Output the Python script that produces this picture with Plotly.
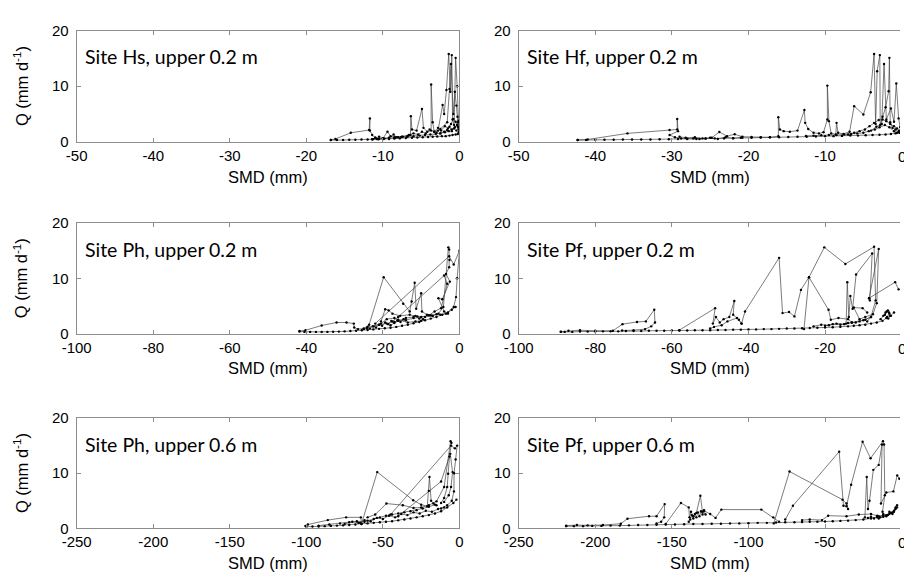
import plotly.graph_objects as go

# Soil moisture deficit (SMD, mm) versus discharge Q (mm/d); each inner list is one
# connected run of daily observations.
hs_smd = [
    [-0.2, -0.5, -0.9, -1.3, -1.8, -2.3, -2.9, -3.5, -4.1, -4.8, -5.5, -6.2, -7.0, -7.8, -8.5, -9.2, -9.9, -10.6, -11.3, -12.0, -12.8, -13.6, -14.4, -15.2, -16.0, -16.8],
    [-16.8, -16.2, -14.2, -11.8, -11.7, -11.7, -11.4, -11.0, -10.5, -10.0, -9.4, -9.0, -8.5, -8.0, -7.4, -6.8, -6.4, -6.35, -6.2, -5.6, -4.9, -4.7, -4.2, -3.7, -3.7, -3.5, -3.3, -2.8, -2.2, -2.0, -1.7, -1.4, -1.2, -1.0, -0.9, -0.7, -0.5, -0.3, -0.2, -0.1],
    [-0.1, -0.3, -0.6, -1.0, -1.4, -1.9, -2.5, -3.1, -3.8, -4.5, -5.2, -6.0, -6.8, -7.6, -8.4, -9.2, -10.0, -10.8, -11.4],
    [-11.4, -11.0, -10.5, -9.8, -9.2, -8.6, -8.2, -7.5, -6.6, -6.0, -5.4, -4.9, -4.4, -3.9, -3.3, -2.8, -2.4, -1.9, -1.5, -1.1, -0.8, -0.5, -0.3, -0.15, -0.4, -0.7, -1.0, -1.3, -1.6, -2.0, -2.5],
    [-3.0, -2.5, -1.6, -1.3, -1.1, -0.8, -0.6, -0.4, -0.25, -0.1],
]
hs_q = [
    [1.4, 1.3, 1.2, 1.1, 1.0, 1.0, 0.95, 0.9, 0.85, 0.8, 0.75, 0.7, 0.65, 0.6, 0.55, 0.5, 0.5, 0.45, 0.45, 0.4, 0.4, 0.35, 0.35, 0.3, 0.3, 0.3],
    [0.3, 0.5, 1.6, 2.1, 4.2, 2.0, 1.2, 0.7, 0.5, 0.6, 1.8, 1.0, 0.8, 0.8, 0.9, 1.0, 1.2, 4.6, 2.2, 2.0, 5.9, 2.5, 1.8, 2.0, 10.3, 3.5, 1.8, 2.0, 6.6, 5.0, 9.3, 15.8, 9.0, 15.6, 4.0, 3.0, 15.1, 10.0, 3.5, 2.2],
    [3.8, 3.0, 2.6, 2.2, 1.9, 1.7, 1.5, 1.4, 1.3, 1.2, 1.1, 1.0, 0.9, 0.85, 0.75, 0.65, 0.55, 0.5, 0.45],
    [0.45, 0.7, 0.9, 0.6, 0.7, 1.3, 0.8, 0.9, 1.2, 1.5, 1.3, 1.8, 1.5, 2.2, 1.8, 2.5, 2.0, 2.8, 2.4, 3.2, 4.1, 3.6, 2.9, 2.6, 2.0, 2.4, 1.9, 2.7, 2.1, 1.8, 1.5],
    [1.6, 2.3, 3.5, 9.5, 14.0, 5.0, 9.0, 6.5, 4.5, 1.7],
]

hf_smd = [
    [-0.3, -0.8, -1.4, -2.1, -2.9, -3.8, -4.7, -5.7, -6.7, -7.8, -8.9, -10.0, -11.2, -12.4, -13.6, -14.8, -16.0, -17.2, -18.4, -19.6, -20.8, -22.0, -23.2, -24.4, -25.6, -26.8, -28.0, -29.2, -30.4, -31.6, -32.8, -34.0, -35.2, -36.4, -37.6, -38.8, -40.0, -41.2, -42.3],
    [-42.3, -41.0, -35.8, -30.3, -29.3, -29.3, -29.2, -30.3, -29.6, -28.8, -28.0, -27.2, -26.4, -25.6, -24.8, -23.8, -22.8, -21.8, -20.8, -19.6, -18.4, -17.2, -16.1, -16.1, -15.9, -15.4, -14.6, -13.6, -12.7, -12.6, -12.2, -11.5, -10.8, -10.2, -9.7, -9.7, -9.5, -9.2, -8.6, -8.5, -8.3, -7.6, -6.8, -6.2, -5.0, -4.05, -3.6, -3.4, -3.2, -2.85, -2.8, -2.5, -2.1, -1.7, -1.6, -1.5, -1.2, -0.8, -0.4],
    [-7.0, -6.2, -5.5, -4.8, -4.2, -3.6, -3.0, -2.5, -2.0, -1.5, -1.0, -0.6, -0.3, -0.6, -1.0, -1.6, -2.2, -2.9, -3.5, -4.3, -5.0, -5.8, -6.6, -7.5, -8.5, -9.5, -10.5, -11.5, -12.5],
    [-4.0, -3.3, -2.6, -2.3, -2.0, -1.4, -1.0, -0.7, -0.4, -0.2],
    [-29.0, -28.2, -27.0, -26.0, -25.0, -24.0, -23.0, -22.0, -21.0],
]
hf_q = [
    [1.6, 1.5, 1.4, 1.3, 1.25, 1.2, 1.15, 1.1, 1.1, 1.05, 1.0, 1.0, 0.95, 0.9, 0.9, 0.85, 0.8, 0.8, 0.75, 0.7, 0.7, 0.65, 0.6, 0.6, 0.55, 0.5, 0.5, 0.5, 0.45, 0.45, 0.4, 0.4, 0.4, 0.4, 0.35, 0.35, 0.35, 0.3, 0.3],
    [0.3, 0.4, 1.5, 2.1, 2.2, 4.1, 1.9, 1.2, 0.8, 0.6, 0.55, 0.6, 0.5, 0.6, 0.7, 1.75, 1.0, 1.35, 0.9, 0.85, 0.8, 0.8, 1.0, 4.4, 2.2, 1.9, 1.8, 2.0, 5.7, 3.4, 2.3, 1.6, 1.5, 1.7, 4.0, 10.1, 3.7, 1.5, 1.3, 3.4, 1.6, 1.4, 1.8, 6.4, 4.9, 8.9, 15.8, 3.2, 12.7, 15.6, 3.0, 4.5, 6.2, 9.1, 15.1, 3.5, 2.5, 2.2, 1.8],
    [1.3, 1.6, 1.9, 2.2, 2.8, 3.4, 3.9, 4.0, 3.7, 3.2, 2.8, 2.4, 2.0, 1.6, 1.9, 2.6, 3.0, 2.6, 2.2, 1.9, 1.6, 1.5, 1.4, 1.3, 1.2, 1.2, 1.15, 1.1, 1.05],
    [2.0, 2.7, 3.2, 14.0, 4.0, 6.0, 3.6, 10.5, 4.2, 2.6],
    [0.9, 0.7, 0.8, 0.6, 0.7, 0.5, 0.8, 0.6, 0.7],
]

ph2_smd = [
    [-1.0, -2.0, -3.0, -4.5, -6.0, -7.5, -9.0, -10.5, -12.0, -13.5, -15.0, -16.5, -18.0, -19.5, -21.0, -22.5, -24.0, -25.5, -27.0, -28.5, -30.0, -31.5, -33.0, -34.5, -36.0, -37.5, -39.0, -40.5, -41.8],
    [-41.8, -40.2, -36.0, -32.1, -29.5, -27.6, -27.5, -26.5, -25.0, -23.6, -19.8, -14.7, -13.0, -12.5, -11.7, -11.3, -10.0, -9.8, -8.5, -7.0],
    [-20.5, -19.4, -18.5, -17.5, -15.5, -13.0, -11.0, -9.0, -7.0, -5.5, -4.2, -2.9, -2.7, -2.6, -2.7, -3.5, -2.5, -4.5, -5.5, -4.0, -3.0],
    [-22.0, -2.7, -1.5, 0.0, -0.6, -0.9, -1.5, -3.5, -5.0],
    [-24.0, -21.0, -19.0, -17.0, -14.0, -12.0, -10.0, -7.5, -6.0],
    [-18.0, -16.0, -14.0, -12.0, -11.5, -10.5, -9.5],
    [-22.5, -20.5, -19.0, -17.0, -16.0, -13.5, -11.5, -10.0],
    [-17.5, -16.0, -4.0, -3.2, -4.8, -6.5, -8.0],
    [-25.0, -24.2, -23.4, -22.6, -21.8, -21.0, -20.2, -19.4, -18.6, -17.8, -17.0, -16.2, -15.4, -14.6],
]
ph2_q = [
    [4.8, 4.3, 3.8, 3.4, 3.0, 2.7, 2.4, 2.1, 1.85, 1.6, 1.4, 1.2, 1.05, 0.95, 0.85, 0.75, 0.65, 0.6, 0.5, 0.45, 0.4, 0.35, 0.33, 0.3, 0.3, 0.3, 0.3, 0.3, 0.35],
    [0.45, 0.6, 1.45, 2.0, 2.0, 1.8, 1.1, 0.8, 0.9, 1.6, 10.2, 5.4, 4.0, 5.8, 9.2, 4.5, 7.3, 4.0, 3.4, 3.2],
    [2.2, 4.4, 4.2, 3.6, 3.2, 3.4, 3.1, 3.0, 3.2, 3.6, 4.8, 15.6, 15.2, 13.3, 12.0, 10.8, 9.4, 6.2, 6.4, 4.0, 3.6],
    [1.8, 14.0, 12.5, 15.0, 10.0, 6.6, 4.8, 3.6, 3.4],
    [1.2, 1.6, 1.8, 2.1, 2.4, 2.8, 3.0, 3.3, 3.5],
    [1.5, 2.3, 2.8, 3.0, 3.2, 2.7, 2.6],
    [1.3, 1.8, 2.6, 2.8, 2.5, 2.0, 2.2, 2.3],
    [2.2, 3.0, 10.5, 9.0, 4.6, 4.0, 3.3],
    [0.8, 1.0, 0.9, 1.3, 1.1, 1.6, 1.4, 2.0, 1.7, 2.3, 1.9, 2.4, 2.1, 2.6],
]

pf2_smd = [
    [-2.0, -3.0, -4.0, -5.0, -6.5, -8.0, -9.5, -11.0, -12.5, -14.0, -16.0, -18.0, -20.0, -22.0, -24.0, -26.0, -28.0, -30.0, -32.0, -34.0, -36.0, -38.0, -40.0, -42.0, -44.0, -46.0, -48.0, -50.0, -52.0, -54.0, -56.0, -58.0, -60.0, -62.0, -64.0, -66.0, -68.0, -70.0, -72.0, -74.0, -76.0, -78.0, -80.0, -82.0, -84.0, -86.0, -88.0, -89.0],
    [-89.0, -87.0, -84.0, -80.0, -75.4, -72.9, -69.1, -66.8, -64.6, -64.4, -65.4, -67.0, -70.0, -73.0],
    [-58.1, -48.7, -49.3, -48.5, -47.5, -46.5, -45.0, -43.7, -44.0, -42.5, -41.8, -43.0, -45.5, -47.0, -49.0, -50.0],
    [-41.8, -40.9, -32.0, -31.1, -29.4, -28.0, -26.3, -24.2, -20.2, -14.7, -7.2, -6.8, -8.0, -9.0],
    [-25.5, -24.2, -19.1, -18.5, -16.5, -14.0, -13.0],
    [-14.5, -14.2, -13.8, -13.4, -12.8, -11.9, -7.7, -8.3, -8.5, -6.0, -6.5, -7.5, -9.5, -11.0, -12.5, -10.2, -9.0],
    [-8.5, -1.7, -0.8],
    [-5.5, -4.8, -4.2, -3.6, -3.2, -3.8, -4.4, -3.9, -3.3, -2.8, -3.5],
    [-23.0, -21.0, -19.0, -17.0, -15.0, -13.0, -11.0, -9.5, -8.0, -10.0, -12.0, -14.0, -16.0, -18.0, -20.0],
]
pf2_q = [
    [3.8, 3.2, 2.8, 2.3, 2.0, 1.8, 1.6, 1.5, 1.4, 1.3, 1.2, 1.15, 1.1, 1.05, 1.0, 0.95, 0.9, 0.9, 0.85, 0.8, 0.8, 0.75, 0.75, 0.7, 0.7, 0.65, 0.65, 0.6, 0.6, 0.6, 0.55, 0.55, 0.55, 0.5, 0.5, 0.5, 0.45, 0.45, 0.45, 0.4, 0.4, 0.4, 0.35, 0.35, 0.35, 0.3, 0.3, 0.3],
    [0.35, 0.5, 0.6, 0.5, 0.5, 1.7, 2.1, 2.2, 4.3, 2.0, 1.3, 0.8, 0.6, 0.55],
    [0.6, 4.6, 1.8, 3.0, 2.0, 2.6, 3.0, 5.9, 3.4, 2.5, 1.8, 2.8, 2.2, 1.5, 1.2, 0.9],
    [1.8, 4.0, 13.7, 3.7, 3.9, 3.1, 7.9, 10.2, 15.6, 12.6, 15.7, 6.0, 3.0, 2.2],
    [0.8, 10.2, 4.3, 2.5, 2.8, 2.6, 2.0],
    [1.8, 9.3, 3.0, 6.8, 4.5, 10.7, 14.5, 6.0, 6.4, 15.3, 5.5, 3.5, 3.0, 2.6, 4.7, 4.6, 3.8],
    [6.4, 9.3, 8.0],
    [2.6, 3.2, 3.8, 4.2, 3.6, 3.0, 3.4, 4.0, 3.8, 3.2, 2.7],
    [1.3, 1.6, 1.5, 1.8, 1.7, 2.0, 2.2, 2.5, 3.0, 2.4, 2.0, 1.9, 1.6, 1.7, 1.4],
]

ph6_smd = [
    [-2.0, -4.0, -8.0, -12.0, -16.0, -20.0, -24.0, -28.0, -32.0, -36.0, -40.0, -44.0, -48.0, -52.0, -56.0, -60.0, -64.0, -68.0, -72.0, -76.0, -80.0, -84.0, -88.0, -92.0, -96.0, -100.0],
    [-100.6, -99.0, -86.0, -74.0, -64.4, -64.0, -53.7, -30.2, -25.0, -21.0, -19.6, -18.5, -17.0, -15.0],
    [-60.0, -55.0, -47.7, -37.0, -30.0, -25.0, -20.0, -15.0, -10.0, -5.8, -5.2, -6.5, -7.4, -8.0, -10.0, -12.0],
    [-45.0, -5.5, -3.0, -1.5, -2.5, -3.5, -3.6, -5.0, -8.0, -12.0],
    [-40.0, -20.0, -12.0, -6.0, -4.5, -5.5, -7.0, -10.0],
    [-75.0, -70.0, -66.0, -62.0, -58.0, -54.0, -50.0, -46.0, -42.0, -38.0, -34.0, -30.0, -26.0, -22.0, -18.0, -14.0, -10.0],
    [-65.0, -60.0, -56.0, -52.0, -48.0, -44.0, -40.0, -36.0, -32.0, -28.0, -24.0, -20.0, -16.0],
    [-92.0, -85.0, -78.0, -72.0, -67.0, -62.0],
]
ph6_q = [
    [5.2, 4.6, 3.8, 3.1, 2.7, 2.4, 2.2, 2.0, 1.8, 1.6, 1.45, 1.3, 1.2, 1.1, 1.0, 0.9, 0.8, 0.7, 0.6, 0.55, 0.5, 0.45, 0.4, 0.35, 0.35, 0.3],
    [0.45, 0.7, 1.5, 2.0, 2.0, 0.8, 10.2, 5.1, 4.3, 4.0, 9.3, 5.0, 4.5, 4.2],
    [2.0, 2.5, 4.5, 4.2, 3.7, 3.8, 4.2, 4.9, 7.5, 15.8, 15.5, 13.0, 9.9, 7.5, 5.5, 4.6],
    [2.5, 15.0, 14.5, 15.0, 12.5, 10.0, 6.7, 5.0, 4.2, 3.6],
    [2.2, 6.8, 8.5, 13.5, 10.2, 7.5, 6.0, 4.8],
    [0.8, 1.2, 1.0, 1.5, 1.3, 1.9, 1.7, 2.3, 2.0, 2.6, 2.4, 2.9, 2.7, 3.2, 3.0, 3.5, 3.8],
    [1.0, 1.4, 1.7, 2.0, 2.3, 2.5, 2.7, 2.9, 3.1, 3.3, 3.6, 3.9, 4.3],
    [0.5, 0.7, 0.9, 1.1, 1.3, 1.2],
]

pf6_smd = [
    [-3, -5, -8, -12, -16, -20, -25, -30, -35, -40, -45, -50, -55, -60, -65, -70, -76, -82, -88, -94, -100, -106, -112, -118, -124, -130, -136, -142, -148, -154, -160, -166, -172, -178, -184, -190, -196, -202, -208, -214, -219],
    [-219, -212, -205, -195, -183.3, -179, -164.9, -160, -154.7, -155, -157, -160],
    [-154, -144.1, -139, -138.5, -137.5, -136, -134, -131.4, -130, -128, -129, -125, -121.5, -117.7, -91.6, -83.8, -80],
    [-83.5, -73.2, -38.6, -36, -35],
    [-76, -71, -40.8, -38, -36, -33, -25.5, -20.3, -12.2, -11.5, -11, -12.5],
    [-24, -22.8, -22, -21, -18.5, -15, -12.8, -13.5, -10, -5.4, -2.9, -1.5],
    [-65, -60, -52, -48, -36, -28, -20, -15, -10, -7, -5, -4, -3],
    [-139, -138, -137, -136, -135, -134, -133, -132, -131, -130, -129],
    [-22, -20, -18, -16, -14, -12, -10, -8, -6, -4, -6, -9, -12, -15],
]
pf6_q = [
    [3.8, 3.0, 2.6, 2.3, 2.0, 1.8, 1.6, 1.5, 1.4, 1.35, 1.3, 1.25, 1.2, 1.2, 1.15, 1.1, 1.1, 1.05, 1.0, 1.0, 0.95, 0.9, 0.9, 0.85, 0.85, 0.8, 0.8, 0.75, 0.7, 0.7, 0.65, 0.6, 0.6, 0.55, 0.5, 0.5, 0.45, 0.45, 0.4, 0.4, 0.4],
    [0.5, 0.6, 0.55, 0.6, 0.85, 1.75, 2.2, 2.2, 4.4, 2.0, 1.2, 0.9],
    [0.8, 4.6, 3.8, 2.0, 3.0, 2.2, 2.8, 5.9, 3.0, 2.5, 3.2, 2.6, 1.9, 3.4, 3.4, 2.0, 1.2],
    [0.9, 10.3, 5.2, 4.5, 3.5],
    [1.6, 4.1, 13.9, 4.1, 4.0, 7.9, 15.7, 12.7, 15.8, 15.2, 6.0, 3.0],
    [2.0, 9.3, 3.5, 5.0, 10.6, 11.5, 15.2, 4.5, 6.5, 6.7, 9.6, 9.0],
    [1.5, 1.6, 1.5, 2.3, 2.2, 2.5, 2.6, 2.2, 2.4, 2.8, 3.2, 3.8, 4.2],
    [1.2, 1.6, 2.4, 1.8, 2.6, 2.0, 2.9, 2.2, 3.1, 2.5, 3.3],
    [1.9, 2.1, 1.8, 2.3, 2.0, 2.6, 2.2, 3.0, 2.6, 3.5, 2.9, 2.4, 2.1, 1.8],
]

panel_titles = [
    "Site Hs, upper 0.2 m", "Site Hf, upper 0.2 m",
    "Site Ph, upper 0.2 m", "Site Pf, upper 0.2 m",
    "Site Ph, upper 0.6 m", "Site Pf, upper 0.6 m",
]
x_ticks = [
    [-50, -40, -30, -20, -10, 0], [-50, -40, -30, -20, -10, 0],
    [-100, -80, -60, -40, -20, 0], [-100, -80, -60, -40, -20, 0],
    [-250, -200, -150, -100, -50, 0], [-250, -200, -150, -100, -50, 0],
]
y_ticks = [0, 10, 20]
x_title = "SMD (mm)"
y_title = "Q (mm d<sup>-1</sup>)"

panels = [(hs_smd, hs_q), (hf_smd, hf_q), (ph2_smd, ph2_q),
          (pf2_smd, pf2_q), (ph6_smd, ph6_q), (pf6_smd, pf6_q)]

# ---- layout geometry (pixels on a 904 x 582 page) ----
W, H = 904, 582
col_px = [(63, 454), (514.5, 905.7)]            # right column runs just past the page edge
row_px = [(22.3, 136.7), (220.5, 334.3), (421.3, 535.0)]

fig = go.Figure()
layout = dict(width=W, height=H, autosize=False,
              margin=dict(l=0, r=0, t=0, b=0),
              paper_bgcolor="white", plot_bgcolor="white",
              showlegend=False, annotations=[])

arial = "Liberation Sans, Arial, sans-serif"
tick_font = dict(family=arial, size=15, color="black")
frame = "#8c8c8c"

for i, (smd_runs, q_runs) in enumerate(panels):
    r, c = divmod(i, 2)
    n = "" if i == 0 else str(i + 1)
    xs, ys = [], []
    for sx, sq in zip(smd_runs, q_runs, strict=True):
        for a, b in zip(sx, sq, strict=True):
            xs.append(a)
            ys.append(b)
        xs.append(None)
        ys.append(None)
    fig.add_trace(go.Scatter(
        x=xs, y=ys, mode="lines+markers", xaxis="x" + n, yaxis="y" + n,
        line=dict(color="#444444", width=0.7),
        marker=dict(color="black", size=2.4),
        hoverinfo="skip"))

    x0p, x1p = col_px[c]
    y0p, y1p = row_px[r]
    ticks = x_ticks[i]
    lo, hi = ticks[0], ticks[-1]
    # visible part of the axis range, cropped at the page edge
    x1_vis = min(x1p, W)
    upper = lo + (hi - lo) * (x1_vis - x0p) / (x1p - x0p)
    shown = [t for t in ticks if t <= upper]
    layout["xaxis" + n] = dict(
        domain=[x0p / W, x1_vis / W], anchor="y" + n,
        range=[lo, upper], tickvals=shown, ticktext=[str(t) for t in shown],
        ticks="inside", ticklen=4, tickcolor=frame, tickwidth=1,
        showline=True, linecolor=frame, linewidth=1, mirror="ticks",
        showgrid=False, zeroline=False, tickfont=tick_font, fixedrange=True)
    layout["yaxis" + n] = dict(
        domain=[1 - y1p / H, 1 - y0p / H], anchor="x" + n,
        range=[0, 20], tickvals=y_ticks,
        ticks="inside", ticklen=4, tickcolor=frame, tickwidth=1,
        showline=True, linecolor=frame, linewidth=1,
        mirror="ticks" if c == 0 else False,
        showgrid=False, zeroline=False, tickfont=tick_font,
        ticklabelstandoff=4, fixedrange=True)

    # panel label
    layout["annotations"].append(dict(
        text=panel_titles[i], xref="x%s domain" % n, yref="y%s domain" % n,
        x=6 / (x1p - x0p), y=1 - 27 / (y1p - y0p), xanchor="left", yanchor="middle",
        showarrow=False, font=dict(family="Lato, sans-serif", size=19.5, color="black")))
    # x-axis title
    layout["annotations"].append(dict(
        text=x_title, xref="paper", yref="paper",
        x=((x0p + x1p) / 2) / W, y=1 - (y1p + 36) / H,
        xanchor="center", yanchor="middle", showarrow=False,
        font=dict(family=arial, size=16.5, color="black")))
    if c == 0:
        layout["annotations"].append(dict(
            text=y_title, xref="paper", yref="paper",
            x=6 / W, y=1 - ((y0p + y1p) / 2) / H, textangle=-90,
            xanchor="center", yanchor="middle", showarrow=False,
            font=dict(family=arial, size=16.5, color="black")))
    else:
        # end-of-axis tick label that sits on the page edge
        layout["annotations"].append(dict(
            text="0", xref="paper", yref="paper",
            x=x1p / W, y=1 - (y1p + 15) / H,
            xanchor="center", yanchor="middle", showarrow=False,
            font=tick_font))

fig.update_layout(**layout)
fig.write_html("out.html")
